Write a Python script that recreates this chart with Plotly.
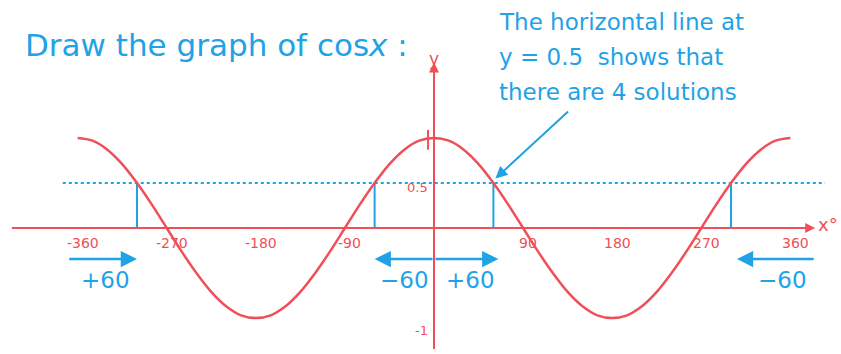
import plotly.graph_objects as go

RED = "#f04f58"
BLUE = "#1fa2e6"
FONT = "DejaVu Sans"

# curve values, every 15 degrees
deg = list(range(-360, 361, 15))
cos_y = [1, 0.97, 0.87, 0.71, 0.5, 0.26, 0, -0.26, -0.5, -0.71, -0.87, -0.97,
         -1, -0.97, -0.87, -0.71, -0.5, -0.26, 0, 0.26, 0.5, 0.71, 0.87, 0.97,
         1, 0.97, 0.87, 0.71, 0.5, 0.26, 0, -0.26, -0.5, -0.71, -0.87, -0.97,
         -1, -0.97, -0.87, -0.71, -0.5, -0.26, 0, 0.26, 0.5, 0.71, 0.87, 0.97, 1]

# horizontal line and the four solutions
line_y = 0.5
line_x = [-375, 395]
solutions = [-300, -60, 60, 300]

# axis tick labels
x_ticks = [-360, -270, -180, -90, 90, 180, 270, 360]
x_ticklabels = ["-360", "-270", "-180", "-90", "90", "180", "270", "360"]
y_ticks = [0.5, -1]
y_ticklabels = ["0.5", "-1"]

# the +/-60 shift arrows: (tail, head, label, label x)
shifts = [(-370, -300, "+60", -332),
          (0, -60, "\u221260", -30),
          (0, 65, "+60", 37),
          (385, 306, "\u221260", 352)]

fig = go.Figure()

fig.add_trace(go.Scatter(x=line_x, y=[line_y, line_y], mode="lines",
                         line=dict(color=BLUE, width=2, dash="3px,3px"),
                         hoverinfo="skip"))

for s in solutions:
    fig.add_trace(go.Scatter(x=[s, s], y=[0, line_y], mode="lines",
                             line=dict(color=BLUE, width=2), hoverinfo="skip"))

fig.add_trace(go.Scatter(x=deg, y=cos_y, mode="lines",
                         line=dict(color=RED, width=2.5, shape="spline"),
                         name="cos x"))

# little tick mark at y = 1
fig.add_trace(go.Scatter(x=[-6, -6], y=[0.87, 1.09], mode="lines",
                         line=dict(color=RED, width=2), hoverinfo="skip"))

annotations = []

# axes drawn as arrows
annotations.append(dict(x=385, y=0, ax=-428, ay=0, xref="x", yref="y",
                        axref="x", ayref="y", text="", showarrow=True,
                        arrowhead=2, arrowsize=1, arrowwidth=2, arrowcolor=RED))
annotations.append(dict(x=0, y=1.84, ax=0, ay=-1.36, xref="x", yref="y",
                        axref="x", ayref="y", text="", showarrow=True,
                        arrowhead=2, arrowsize=1, arrowwidth=2, arrowcolor=RED))
annotations.append(dict(x=386, y=0.04, text="x\u00b0", showarrow=False,
                        xanchor="left", font=dict(family=FONT, size=18, color=RED)))
annotations.append(dict(x=0, y=1.88, text="y", showarrow=False,
                        font=dict(family=FONT, size=17, color=RED)))

for v, t in zip(x_ticks, x_ticklabels):
    annotations.append(dict(x=v, y=-0.17, text=t, showarrow=False, xshift=5,
                            font=dict(family=FONT, size=14, color=RED)))
for v, t in zip(y_ticks, y_ticklabels):
    annotations.append(dict(x=-4, y=v, text=t, showarrow=False, xanchor="right",
                            yshift=-5 if v > 0 else -12,
                            font=dict(family=FONT, size=13, color=RED)))

for tail, head, label, lx in shifts:
    annotations.append(dict(x=head, y=-0.345, ax=tail, ay=-0.345, xref="x",
                            yref="y", axref="x", ayref="y", text="",
                            showarrow=True, arrowhead=2, arrowsize=1.3,
                            arrowwidth=2.5, arrowcolor=BLUE))
    annotations.append(dict(x=lx, y=-0.58, text=label, showarrow=False,
                            font=dict(family=FONT, size=23, color=BLUE)))

# title and explanation
annotations.append(dict(x=-415, y=2.03, text="Draw the graph of cos<i>x</i> :",
                        showarrow=False, xanchor="left",
                        font=dict(family=FONT, size=31, color=BLUE)))
for i, line in enumerate(["The horizontal line at", "y = 0.5  shows that",
                          "there are 4 solutions"]):
    annotations.append(dict(x=64, y=2.29 - i * 0.39, text=line, showarrow=False,
                            xanchor="left",
                            font=dict(family=FONT, size=23, color=BLUE)))
annotations.append(dict(x=62, y=0.55, ax=137, ay=1.31, xref="x", yref="y",
                        axref="x", ayref="y", text="", showarrow=True,
                        arrowhead=2, arrowsize=1.2, arrowwidth=2,
                        arrowcolor=BLUE))

fig.update_layout(
    width=841, height=354,
    margin=dict(l=0, r=0, t=0, b=0),
    paper_bgcolor="white", plot_bgcolor="white",
    showlegend=False,
    xaxis=dict(range=[-438.4, 411.1], visible=False),
    yaxis=dict(range=[-1.4, 2.533], visible=False),
    annotations=annotations,
)

fig.write_html("out.html",
               config={"displayModeBar": False},
               post_script="document.body.style.margin='0';"
                           "document.body.style.overflow='hidden';")
